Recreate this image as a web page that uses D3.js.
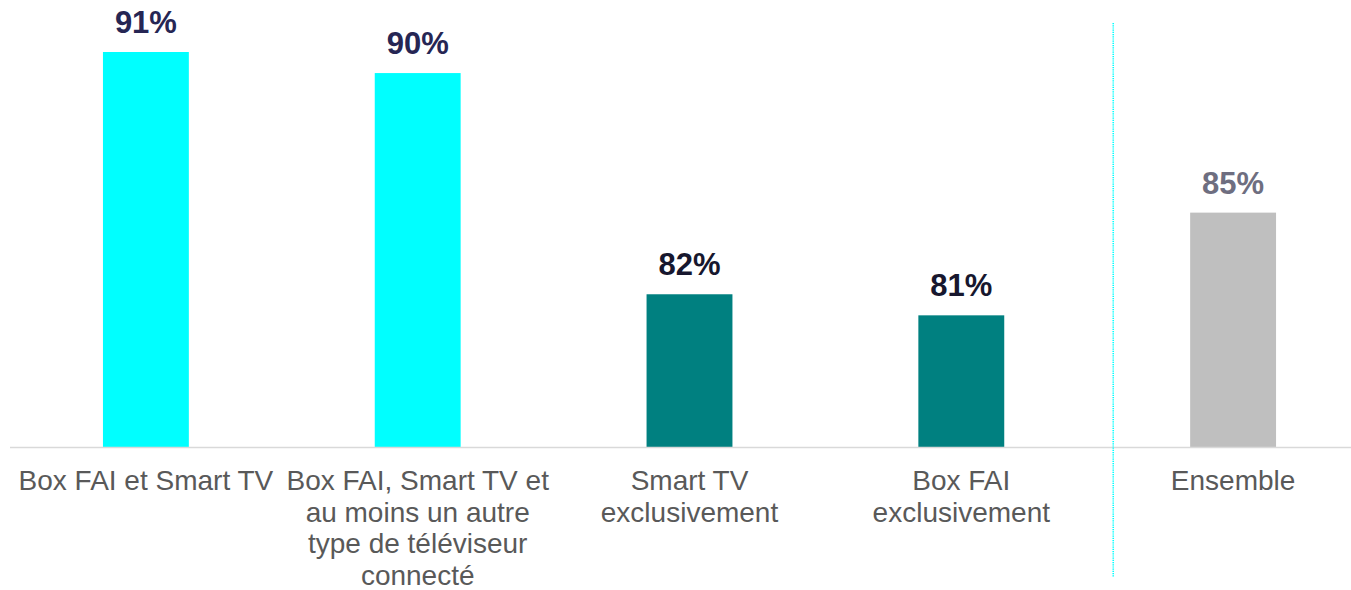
<!DOCTYPE html>
<html>
<head>
<meta charset="utf-8">
<script src="https://cdn.jsdelivr.net/npm/d3@7"></script>
<style>
  html, body { margin: 0; padding: 0; background: #fff; }
  svg { display: block; font-family: "Liberation Sans", Arial, sans-serif; }
</style>
</head>
<body>
<svg width="1351" height="590"></svg>
<script>
// categories, one array of lines per tick label
const categories = ["c1", "c2", "c3", "c4", "c5"];
const tickLabels = [
  ["Box FAI et Smart TV"],
  ["Box FAI, Smart TV et", "au moins un autre", "type de téléviseur", "connecté"],
  ["Smart TV", "exclusivement"],
  ["Box FAI", "exclusivement"],
  ["Ensemble"]
];
const groups = ["multi", "multi", "single", "single", "total"];
const values = [91.0, 90.2, 81.8, 81.0, 84.9];

function drawChart()
{
  let svg = d3.select("svg"),
    width = +svg.attr("width"),
    baseline = 447;

  let x = d3.scaleBand()
    .domain(categories)
    .range([10, 1369])
    .paddingInner(0.684)
    .paddingOuter(0.342);

  let y = d3.scaleLinear()
    .domain([76, 91])
    .range([baseline, 52]);

  let barColor = d3.scaleOrdinal()
    .domain(["multi", "single", "total"])
    .range(["#00ffff", "#008080", "#bfbfbf"]);

  let labelColor = d3.scaleOrdinal()
    .domain(["multi", "single", "total"])
    .range(["#262654", "#17172e", "#6e6e80"]);

  let data = categories.map((c, i) => ({
    key: c,
    lines: tickLabels[i],
    group: groups[i],
    value: values[i]
  }));

  // bars
  svg.selectAll(".bar")
    .data(data)
    .enter().append("rect")
    .attr("class", "bar")
    .attr("x", d => x(d.key))
    .attr("width", x.bandwidth())
    .attr("y", d => y(d.value))
    .attr("height", d => baseline - y(d.value))
    .attr("fill", d => barColor(d.group));

  // axis line
  svg.append("line")
    .attr("x1", 10)
    .attr("x2", width)
    .attr("y1", baseline + 0.5)
    .attr("y2", baseline + 0.5)
    .attr("stroke", "#d9d9d9")
    .attr("stroke-width", 1.5);

  // dotted separator before "Ensemble"
  let sepX = x(categories[4]) - x.step() * 0.283;
  svg.append("line")
    .attr("x1", sepX)
    .attr("x2", sepX)
    .attr("y1", 23)
    .attr("y2", 577)
    .attr("stroke", "#00ffff")
    .attr("stroke-width", 1.6)
    .attr("stroke-dasharray", "1.2,1");

  // value labels
  svg.selectAll(".val")
    .data(data)
    .enter().append("text")
    .attr("class", "val")
    .attr("x", d => x(d.key) + x.bandwidth() / 2)
    .attr("y", d => y(d.value) - 19)
    .attr("text-anchor", "middle")
    .attr("font-size", "31px")
    .attr("font-weight", "bold")
    .attr("fill", d => labelColor(d.group))
    .text(d => Math.round(d.value) + "%");

  // category labels
  let cat = svg.selectAll(".cat")
    .data(data)
    .enter().append("text")
    .attr("class", "cat")
    .attr("x", d => x(d.key) + x.bandwidth() / 2)
    .attr("y", 490)
    .attr("text-anchor", "middle")
    .attr("font-size", "28px")
    .attr("fill", "#595959");

  cat.selectAll("tspan")
    .data(d => d.lines.map(l => ({ line: l, cx: x(d.key) + x.bandwidth() / 2 })))
    .enter().append("tspan")
    .attr("x", d => d.cx)
    .attr("dy", (d, i) => i === 0 ? 0 : 31.5)
    .text(d => d.line);
}

drawChart();
</script>
</body>
</html>
